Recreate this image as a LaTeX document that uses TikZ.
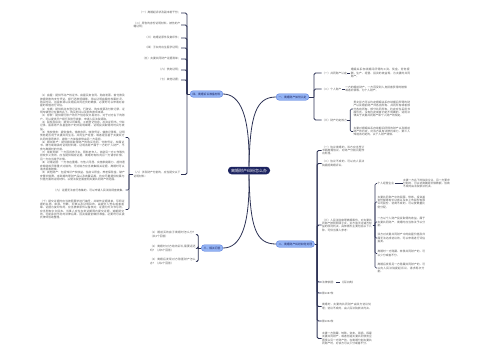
\documentclass[tikz,border=0pt]{standalone}
\usepackage{fontspec}
\usepackage{tikz}
\usetikzlibrary{positioning}
\newfontfamily\cjk{Noto Sans CJK SC}
\XeTeXlinebreaklocale "zh"
\XeTeXlinebreakskip=0pt plus 1pt

\definecolor{hubnavy}{HTML}{1C2360}
\definecolor{pillblue}{HTML}{93B3F4}
\definecolor{pillline}{HTML}{5B7FDD}
\definecolor{wirecol}{HTML}{2E3356}
\definecolor{leafgray}{HTML}{5C5C5C}

\tikzset{
  hub/.style={fill=hubnavy, text=white, rounded corners=3.5pt, inner xsep=3pt, inner ysep=0pt,
    minimum height=7.5pt, font={\cjk\fontsize{4}{4.8}\selectfont}},
  pill/.style={draw=pillline, fill=pillblue, rounded corners=3pt, line width=0.4pt, inner xsep=2.3pt,
    inner ysep=0pt, minimum height=6.5pt, font={\cjk\fontsize{2.8}{3.4}\selectfont}, text=hubnavy},
  leaf/.style={font={\cjk\fontsize{2.75}{3.35}\selectfont}, text=leafgray, inner sep=0.3pt, align=left},
  trunk/.style={draw=wirecol, line width=0.8pt},
  brace/.style={draw=wirecol, line width=0.9pt, rounded corners=1.5pt},
  twig/.style={draw=wirecol, line width=0.6pt, rounded corners=1.2pt},
}

\begin{document}
\begin{tikzpicture}[x=1pt,y=-1pt]
  \useasboundingbox[fill=white] (0,0) rectangle (500,360);

  % 中心
  \node[hub] (hub) at (249,170.5) {离婚财产纠纷怎么办};

  % 四个分支
  \node[pill, anchor=west] (r1) at (276,97) {一、离婚财产如何认定};
  \node[pill, anchor=west] (r2) at (276,244) {二、离婚财产纠纷如何处理};
  \node[pill, anchor=east] (l2) at (223,248) {三、相关问答};
  \node[pill, anchor=east] (l1) at (223,94) {四、离婚诉讼准备材料};

  \draw[trunk] (hub.north) .. controls (250,115) and (256,97) .. (r1.west);
  \draw[trunk] (hub.north) .. controls (250,115) and (240,94) .. (l1.east);
  \draw[trunk] (hub.south) .. controls (250,228) and (256,244) .. (r2.west);
  \draw[trunk] (hub.south) .. controls (250,228) and (240,248) .. (l2.east);

  % 一、右上
  \node[leaf, anchor=west] (c1) at (321.5,73) {（一）共同财产认定};
  \node[leaf, text width=60pt, right=3pt of c1] (c1t) {婚姻关系存续期间所得的工资、奖金、劳务报酬，生产、经营、投资的收益等，为夫妻的共同财产。};
  \node[leaf, anchor=west] (c2) at (321.5,89) {（二）个人财产};
  \node[leaf, text width=62pt, right=3pt of c2] (c2t) {一方的婚前财产、一方因受到人身损害获得的赔偿或者补偿等，为个人财产。};
  \node[leaf, anchor=west] (c3) at (321.5,120) {（三）财产约定效力};
  \node[leaf, anchor=west, text width=57pt] (c3a) at (353,109) {男女双方可以约定婚姻关系存续期间所得的财产以及婚前财产归各自所有、共同所有或者部分各自所有、部分共同所有。约定应当采用书面形式。没有约定或者约定不明确的，适用法律关于夫妻共同财产和个人财产的规定。};
  \node[leaf, anchor=west, text width=57pt] (c3b) at (353,131.5) {夫妻对婚姻关系存续期间所得的财产以及婚前财产的约定，对双方具有法律约束力，第三人知道该约定的，以个人财产清偿。};

  \draw[brace] (r1.east) -- ++(5,0) coordinate (r1k);
  \foreach \k in {c1,c2,c3} \draw[brace] (r1k) |- (\k.west);
  \draw[twig, line width=0.9pt] (c1.east) -- (c1t.west);
  \draw[twig, line width=0.9pt] (c2.east) -- (c2t.west);
  \draw[twig] (c3.east) -- ++(3,0) coordinate (c3k);
  \foreach \k in {c3a,c3b} \draw[twig] (c3k) |- (\k.west);

  % 二、右下
  \node[leaf, anchor=west, text width=43pt] (d1) at (321.5,150.5) {（一）协议离婚的，双方应当签订书面离婚协议，对财产分割问题作出处理。};
  \node[leaf, anchor=west, text width=43pt] (d2) at (321.5,163.5) {（二）协议不成的，可以向人民法院提起离婚诉讼。};
  \node[leaf, anchor=west, text width=50pt] (d3) at (321.5,225) {（三）人民法院审理离婚案件，对夫妻共同财产按照照顾子女、女方和无过错方权益的原则判决，具体情形主要包括以下几种，可供当事人参考：};
  \node[leaf, anchor=west] (d4) at (321.5,282) {法律依据：};
  \node[leaf, right=4pt of d4] (d4t) {《民法典》};
  \node[leaf, anchor=west] (d5) at (321.5,293) {第1087条};
  \node[leaf, anchor=west, text width=50pt] (d6) at (321.5,306.5) {离婚时，夫妻的共同财产由双方协议处理；协议不成的，由人民法院依法判决。};
  \node[leaf, anchor=west] (d7) at (321.5,321) {第1092条};
  \node[leaf, anchor=west, text width=50pt] (d8) at (321.5,338.5) {夫妻一方隐藏、转移、变卖、毁损、挥霍夫妻共同财产，或者伪造夫妻共同债务企图侵占另一方财产的，在离婚分割夫妻共同财产时，对该方可以少分或者不分。};

  \draw[brace] (r2.east) -- ++(2.5,0) coordinate (r2k);
  \foreach \k in {d1,d2,d3,d4,d5,d6,d7,d8} \draw[brace] (r2k) |- (\k.west);
  \draw[twig, line width=0.9pt] (d4.east) -- (d4t.west);

  % 三种情形
  \node[leaf, anchor=west] (e1) at (377,183.5) {个人经营企业};
  \node[leaf, text width=47pt, right=8pt of e1] (e1t) {夫妻一方名下的独资企业，另一方要求分割的，可以协商确定补偿数额，协商不成的由法院依法判决。};
  \node[leaf, anchor=west, text width=48pt] (e2) at (377,202) {夫妻共同财产中的股票、债券、投资基金份额等有价证券以及未上市股份有限公司股份，协商不成的，可以按数量比例分配。};
  \node[leaf, anchor=west, text width=48pt] (e3) at (377,222) {一方以个人财产投资取得的收益，属于夫妻共同财产，离婚时应当依法予以分割。};
  \node[leaf, anchor=west, text width=48pt] (e4) at (377,238) {双方对夫妻共同财产中的房屋价值及归属无法达成协议的，可以申请进行评估拍卖。};
  \node[leaf, anchor=west, text width=48pt] (e5) at (377,253.5) {离婚时一方隐藏、转移共同财产的，可以少分或者不分。};
  \node[leaf, anchor=west, text width=48pt] (e6) at (377,268) {离婚后发现另一方隐藏共同财产的，可以向人民法院提起诉讼，请求再次分割。};

  \draw[twig] (d3.east) -- ++(2.5,0) coordinate (d3k);
  \foreach \k in {e1,e2,e3,e4,e5,e6} \draw[twig] (d3k) |- (\k.west);
  \draw[twig, line width=0.9pt] (e1.east) -- (e1t.west);

  % 三、左下
  \node[leaf, anchor=east, text width=47pt] (f1) at (197.5,234.5) {（1）婚前买的房子离婚时怎么分？（共3个回答）};
  \node[leaf, anchor=east, text width=47pt] (f2) at (197.5,248.5) {（2）离婚时对方给的彩礼需要返还吗？（共5个回答）};
  \node[leaf, anchor=east, text width=47pt] (f3) at (197.5,261.5) {（3）离婚后发现对方隐匿财产怎么办？（共2个回答）};

  \draw[brace] (l2.west) -- ++(-3,0) coordinate (l2k);
  \foreach \k in {f1,f2,f3} \draw[brace] (l2k) |- (\k.east);

  % 四、左上
  \node[leaf, anchor=east] (g1) at (181,13) {（一）离婚起诉状及副本若干份；};
  \node[leaf, anchor=east, text width=47pt] (g2) at (181,25) {（二）原告的身份证明材料，被告的户籍证明；};
  \node[leaf, anchor=east] (g3) at (181,38) {（三）结婚证原件及复印件；};
  \node[leaf, anchor=east] (g4) at (181,48) {（四）子女的出生医学证明；};
  \node[leaf, anchor=east] (g5) at (181,59) {（五）夫妻共同财产证据清单；};
  \node[leaf, anchor=east] (g6) at (181,70) {（六）债务证明；};
  \node[leaf, anchor=east] (g7) at (181,80) {（七）其他证据；};
  \node[leaf, anchor=east, text width=47pt] (g8) at (181,174.5) {（八）涉及财产分割的，应当提交以下证明材料：};

  \draw[brace] (l1.west) -- ++(-3,0) coordinate (l1k);
  \foreach \k in {g1,g2,g3,g4,g5,g6,g7,g8} \draw[brace] (l1k) |- (\k.east);

  \node[leaf, anchor=east, text width=85pt] (h1) at (125.5,137.5) {（1）房屋：提供不动产权证书、房屋买卖合同、购房发票、首付款及按揭贷款的支付凭证、银行还款明细等，用以证明房屋的权属状况、购买时间、出资来源以及婚后共同还贷的数额，必要时可以申请对房屋的现值进行评估。\par
  （2）车辆：提供机动车登记证书、行驶证、购车发票及付款记录，证明车辆登记在谁的名下、购买时间以及购车款项来源。\par
  （3）存款：提供银行账户的开户信息及交易流水，对于对方名下的账户，可以提供开户银行及账号线索，申请人民法院调取。\par
  （4）股权及投资：提供公司章程、工商登记信息、出资证明书、分红记录、股票账户及基金账户的交易明细等，证明投资取得的时间与收益。\par
  （5）债权债务：提供借条、借款合同、转账凭证、催款记录等，证明债务是否用于夫妻共同生活、共同生产经营，或者是否基于夫妻双方共同的意思表示，避免一方单独举债由另一方承担。\par
  （6）婚前财产：提供婚前取得财产的购买合同、付款凭证、权属证书、赠与或继承的证明材料等，证明该财产属于一方的个人财产，不参与离婚时的分割。\par
  （7）家庭贡献：一方因抚育子女、照料老年人、协助另一方工作等负担较多义务的，应当提供相应证据，离婚时有权向另一方请求补偿，另一方应当给予补偿。\par
  （8）过错证据：一方存在重婚、与他人同居、实施家庭暴力、虐待遗弃家庭成员等重大过错的，无过错方应当收集相关证据，离婚时可以请求损害赔偿。\par
  （9）其他财产：包括知识产权收益、住房公积金、养老保险金、破产安置补偿费、未到期的理财产品以及收藏品等，均应尽量提供权属与价值方面的证明材料，以便法院全面查明夫妻共同财产的范围。};
  \node[leaf, anchor=east] (h2) at (125.5,190) {（九）证据无法自行收集的，可以申请人民法院调查收集。};
  \node[leaf, anchor=east, text width=85pt] (h3) at (125.5,209.5) {（十）提交证据时应当按照要求进行编号，并制作证据清单，写明证据的名称、来源、份数、页数以及证明目的，由提交人签名或者盖章。证据为复印件的，应当携带原件以备核对；证据为外文书写的，应当附有中文译本。当事人应当在举证期限内提交证据，逾期提交的，可能承担不利的法律后果，因此需提前做好准备，必要时可以委托律师协助整理。};

  \draw[twig] (g8.west) -- ++(-4,0) coordinate (g8k);
  \foreach \k in {h1,h2,h3} \draw[twig] (g8k) |- (\k.east);
\end{tikzpicture}
\end{document}
